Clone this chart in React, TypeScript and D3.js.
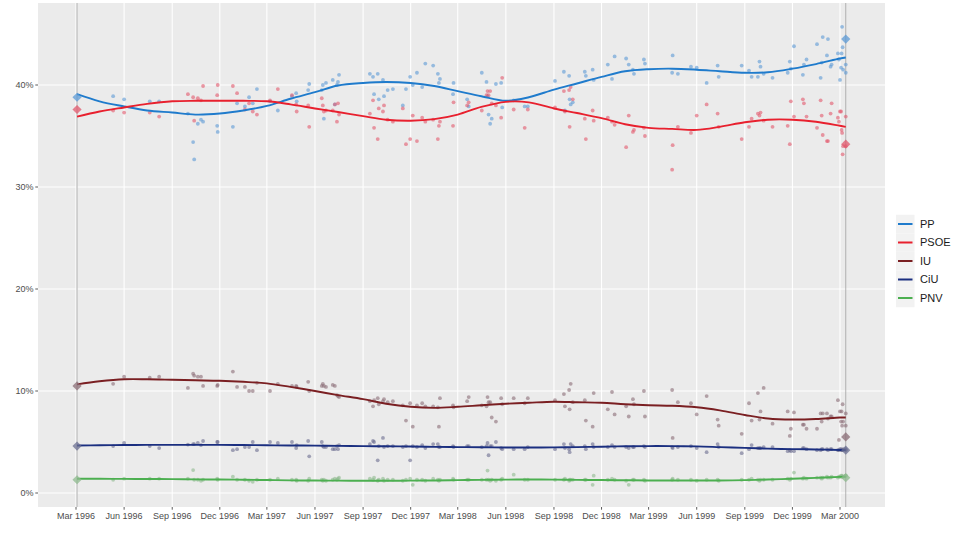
import React from "react";
import * as d3 from "d3";

// ---------- data ----------
const parties = ["PP", "PSOE", "IU", "CiU", "PNV"];
const lineColors = ["#1f7bcc", "#e8202e", "#7a1f22", "#1b2f80", "#4caf50"];
const dotColors = ["#5b9ad6", "#e2586c", "#8a6c76", "#6a6d90", "#8db98d"];

const electionDates = ["1996-03-03", "2000-03-12"];
const electionResults = [
  [38.8, 44.5],
  [37.6, 34.2],
  [10.5, 5.5],
  [4.6, 4.2],
  [1.3, 1.5],
];

const pollDates = [
  "1996-05-11","1996-06-01","1996-07-20","1996-08-07","1996-10-01","1996-10-11","1996-10-13","1996-10-20","1996-10-26","1996-10-30",
  "1996-11-26","1996-11-27","1996-12-26","1997-01-03","1997-01-18","1997-01-26","1997-02-02","1997-02-10","1997-03-07","1997-03-22",
  "1997-04-18","1997-04-26","1997-04-27","1997-05-19","1997-05-21","1997-06-14","1997-06-16","1997-06-18","1997-06-22","1997-07-05",
  "1997-07-09","1997-07-13","1997-07-15","1997-07-17","1997-09-14","1997-09-20","1997-09-22","1997-09-29","1997-10-01","1997-10-09",
  "1997-10-11","1997-10-18","1997-10-28","1997-11-16","1997-11-22","1997-11-30","1997-12-05","1997-12-13","1997-12-23","1997-12-29",
  "1998-01-13","1998-01-22","1998-01-24","1998-01-26","1998-02-20","1998-02-21","1998-03-19","1998-03-22","1998-04-16","1998-04-25",
  "1998-04-27","1998-04-29","1998-05-02","1998-05-05","1998-05-13","1998-05-23","1998-05-25","1998-06-16","1998-07-07","1998-07-13",
  "1998-09-03","1998-09-20","1998-09-22","1998-09-30","1998-10-01","1998-10-03","1998-10-07","1998-10-30","1998-11-01","1998-11-14",
  "1998-11-16","1998-12-13","1998-12-21","1998-12-26","1999-01-17","1999-01-22","1999-01-30","1999-02-01","1999-02-20","1999-02-22",
  "1999-04-15","1999-04-16","1999-04-26","1999-05-21","1999-06-01","1999-06-20","1999-07-11","1999-07-13","1999-08-26","1999-09-09",
  "1999-09-14","1999-09-26","1999-09-29","1999-10-01","1999-10-07","1999-10-24","1999-11-22","1999-11-26","1999-11-28","1999-12-04",
  "1999-12-21","1999-12-23","1999-12-28","2000-01-17","2000-01-24","2000-01-26","2000-01-28","2000-02-05","2000-02-07","2000-02-12",
  "2000-02-14","2000-02-26","2000-02-28","2000-03-01","2000-03-03","2000-03-04","2000-03-05","2000-03-06","2000-03-07","2000-03-12",
  "2000-03-12",
];

const ppPolls = [
  38.9,38.6,38.4,38.4,37.2,34.4,32.7,36.2,36.6,36.4,
  36.0,35.4,35.9,38.2,37.9,38.8,38.2,39.6,38.4,37.5,
  38.9,39.2,38.4,39.5,40.1,39.5,40.0,36.7,40.2,40.5,
  38.1,40.0,40.3,41.0,41.1,40.8,39.1,41.1,38.6,40.5,
  38.9,39.5,39.6,38.0,39.6,40.8,40.0,41.2,39.8,42.1,
  41.9,41.1,40.2,40.6,39.1,40.2,38.6,37.9,41.2,40.3,
  38.9,37.1,36.2,36.7,40.1,40.2,37.8,38.5,37.9,37.9,
  40.4,41.3,37.5,40.9,38.6,38.1,38.3,41.3,40.9,41.5,
  40.5,42.0,40.6,42.8,42.6,42.0,41.5,41.1,42.5,42.1,
  41.2,42.9,41.1,41.8,41.7,40.2,41.9,40.8,41.9,41.4,
  40.8,40.8,42.3,41.8,41.1,40.7,41.2,42.3,41.6,43.8,
  41.0,42.0,42.5,44.0,40.7,42.2,44.7,42.9,44.5,41.8,
  42.0,43.1,42.5,40.5,41.7,43.1,45.7,43.7,41.5,42.0,
  41.2,
];
const psoePolls = [
  37.5,37.3,37.3,36.9,39.1,38.8,36.5,38.7,38.5,39.9,
  39.0,40.0,39.9,39.2,37.6,38.2,37.4,37.1,38.5,39.6,
  39.0,38.1,37.4,38.0,35.9,38.7,38.0,37.4,37.5,37.5,
  38.1,36.4,38.2,37.1,37.2,38.5,35.8,34.7,37.7,37.4,
  38.0,36.6,36.4,37.7,34.2,34.7,37.0,34.5,36.8,36.4,
  36.6,34.7,36.0,36.4,36.0,38.3,38.0,38.3,37.5,39.0,
  39.4,39.0,39.4,38.2,38.0,36.8,40.7,37.6,35.8,37.6,
  37.8,39.4,37.4,39.5,35.9,39.8,38.6,36.7,34.7,37.5,
  36.5,36.8,36.4,36.1,33.9,37.0,35.4,35.6,35.8,35.0,
  31.7,34.1,35.9,35.3,37.0,38.1,37.2,35.9,34.7,35.9,
  36.7,37.2,37.0,37.3,36.5,35.9,36.0,34.2,38.4,36.9,
  38.6,38.2,36.9,35.8,38.5,37.0,35.1,34.5,34.5,37.2,
  38.2,36.8,36.4,37.4,37.4,35.6,35.3,33.2,34.0,36.9,
  34.0,
];
const iuPolls = [
  10.7,11.4,11.3,11.4,10.3,11.7,11.5,11.4,11.4,10.5,
  10.5,10.6,11.9,10.4,10.4,10.0,10.0,10.8,10.0,10.7,
  10.5,10.5,10.4,10.9,10.0,10.5,10.7,10.5,10.4,10.6,
  10.5,9.6,9.5,9.4,9.0,8.5,9.1,9.3,8.7,9.0,
  9.2,8.9,9.0,8.6,7.1,8.8,6.5,8.6,8.8,8.5,
  8.5,8.4,6.5,9.3,8.6,8.4,9.0,9.4,8.6,8.5,
  9.4,8.9,8.9,7.4,7.0,9.3,8.7,9.3,8.8,9.3,
  9.1,9.7,8.5,10.1,8.2,10.7,8.9,9.1,7.1,6.5,
  9.8,8.2,9.9,7.7,8.5,7.5,9.2,8.7,10.0,7.5,
  10.1,5.4,8.9,8.8,7.7,9.5,7.2,6.6,5.8,8.8,
  7.1,9.8,7.2,8.0,10.3,6.8,8.0,5.6,6.3,7.9,
  6.7,6.7,6.3,6.3,7.8,7.0,7.8,7.8,7.3,7.5,
  7.5,9.1,5.2,8.0,7.0,8.0,6.6,8.7,7.0,7.8,
  6.6,
];
const ciuPolls = [
  4.6,4.9,4.6,4.4,4.75,4.8,4.8,4.9,4.7,5.1,
  5.0,5.0,4.2,4.3,4.5,4.5,5.0,4.2,5.0,4.9,
  5.0,4.4,4.7,5.1,3.6,5.0,4.6,4.5,4.5,4.3,
  4.3,4.6,4.3,4.7,4.8,5.1,5.0,3.2,4.6,5.4,
  4.5,4.6,4.6,4.5,4.6,3.2,4.6,4.5,4.7,4.4,
  4.8,4.8,4.5,4.5,4.6,4.5,4.6,4.6,4.5,4.6,
  4.9,3.7,4.6,4.6,5.0,4.4,4.3,4.3,4.3,4.5,
  4.3,4.8,4.4,4.3,4.0,4.8,4.6,4.6,4.3,4.8,
  4.5,4.5,4.7,4.5,4.5,4.4,4.5,4.5,4.6,4.5,
  4.5,4.4,4.5,4.6,4.4,4.0,4.8,4.5,3.9,4.3,
  4.7,4.4,4.4,4.4,4.5,4.5,4.1,4.2,4.1,4.1,
  4.4,4.4,4.3,4.2,4.2,4.3,4.3,4.3,4.2,4.3,
  4.3,4.2,4.2,4.3,4.3,4.2,4.2,4.2,4.3,4.2,
  4.3,
];
const pnvPolls = [
  1.3,1.4,1.4,1.4,1.4,2.25,1.3,1.3,1.2,1.3,
  1.4,1.3,1.6,1.3,1.3,1.2,1.1,1.3,1.3,1.4,
  1.3,1.3,1.2,1.2,1.4,1.3,1.2,1.3,1.2,1.3,
  1.4,1.3,1.4,1.5,1.4,1.3,1.5,1.2,1.3,1.4,
  1.2,1.3,1.3,1.2,1.3,1.4,0.8,1.3,1.3,1.2,
  1.4,1.3,1.2,1.3,1.4,1.3,1.3,1.3,1.3,1.3,
  2.2,1.3,1.2,1.3,1.2,1.3,1.4,1.8,1.3,1.3,
  1.3,1.3,1.4,1.2,1.3,1.3,1.3,1.3,1.3,0.8,
  1.7,1.3,1.4,1.3,1.2,0.8,1.3,1.3,1.3,1.2,
  1.3,1.4,1.3,1.3,1.2,1.3,1.3,1.2,1.3,1.3,
  1.4,1.3,1.2,1.3,1.3,1.3,1.4,1.3,1.4,2.0,
  1.4,1.5,1.4,1.5,1.5,1.4,1.5,1.6,1.5,1.5,
  1.6,1.5,1.6,1.6,1.7,1.6,1.7,1.6,1.6,1.7,
  1.7,
];

const trendDates = [
  "1996-03-03","1996-04-15","1996-06-01","1996-07-15","1996-09-01","1996-10-15","1996-12-01","1997-01-15","1997-03-01","1997-04-15",
  "1997-06-01","1997-07-15","1997-09-01","1997-10-15","1997-12-01","1998-01-15","1998-03-01","1998-04-15","1998-06-01","1998-07-15",
  "1998-09-01","1998-10-15","1998-12-01","1999-01-15","1999-03-01","1999-04-15","1999-06-01","1999-07-15","1999-09-01","1999-10-15",
  "1999-12-01","2000-01-15","2000-03-01","2000-03-12",
];
const ppTrend = [39.1,38.4,37.9,37.5,37.3,37.1,37.2,37.5,37.95,38.65,39.3,39.95,40.2,40.3,40.2,39.9,39.4,38.9,38.45,38.8,39.55,40.15,40.8,41.35,41.55,41.6,41.5,41.35,41.2,41.25,41.6,42.05,42.6,42.7];
const psoeTrend = [36.9,37.4,37.8,38.15,38.4,38.45,38.45,38.45,38.4,38.1,37.7,37.35,36.95,36.6,36.5,36.65,37.1,37.85,38.35,38.3,37.7,37.25,36.75,36.15,35.8,35.7,35.6,35.9,36.35,36.6,36.6,36.4,36.0,35.9];
const iuTrend = [10.65,10.95,11.15,11.15,11.1,11.05,11.0,10.9,10.75,10.4,10.0,9.6,9.2,8.75,8.45,8.35,8.45,8.6,8.75,8.85,8.95,8.9,8.85,8.7,8.6,8.55,8.4,8.1,7.65,7.3,7.2,7.25,7.4,7.4];
const ciuTrend = [4.65,4.68,4.7,4.72,4.72,4.72,4.72,4.7,4.68,4.66,4.64,4.62,4.6,4.58,4.56,4.52,4.5,4.48,4.46,4.46,4.47,4.5,4.54,4.58,4.6,4.6,4.57,4.5,4.42,4.35,4.3,4.27,4.22,4.2];
const pnvTrend = [1.4,1.39,1.38,1.37,1.36,1.34,1.32,1.3,1.27,1.24,1.22,1.21,1.2,1.2,1.21,1.23,1.26,1.29,1.31,1.32,1.31,1.29,1.27,1.25,1.23,1.22,1.22,1.23,1.26,1.32,1.4,1.48,1.58,1.6];

const yTicks = [0, 10, 20, 30, 40];
const tickStart = "1996-03-01";
const tickEnd = "2000-03-01";

const pollSeries = [ppPolls, psoePolls, iuPolls, ciuPolls, pnvPolls];
const trendSeries = [ppTrend, psoeTrend, iuTrend, ciuTrend, pnvTrend];

// ---------- layout ----------
const W = 960, H = 534;
const P = { left: 38, right: 885, top: 3, bottom: 507 };
const FONT = "'Liberation Sans', Arial, sans-serif";

export default function App() {
  const parse = d3.utcParse("%Y-%m-%d");
  const x = d3.scaleUtc().domain([parse(tickStart), parse(tickEnd)]).range([76, 840]);
  const y = d3.scaleLinear().domain([0, 40]).range([493, 85]);
  const xTicks = d3.utcMonth.range(parse(tickStart), d3.utcDay.offset(parse(tickEnd), 1), 3);
  const fmt = d3.utcFormat("%b %Y");
  const pd = pollDates.map(parse);
  const td = trendDates.map(parse);
  const line = d3.line<[Date, number]>().x((d) => x(d[0])).y((d) => y(d[1])).curve(d3.curveCatmullRom.alpha(0.5));
  const diamond = (r: number) => `M0,${-r}L${r},0L0,${r}L${-r},0Z`;

  return (
    <svg width={W} height={H} style={{ position: "absolute", left: 0, top: 0, background: "#fff" }} fontFamily={FONT}>
      <rect x={P.left} y={P.top} width={P.right - P.left} height={P.bottom - P.top} fill="#ebebeb" />
      {yTicks.map((t) => (
        <line key={"gy" + t} x1={P.left} x2={P.right} y1={y(t)} y2={y(t)} stroke="#fff" strokeWidth={1.1} />
      ))}
      {xTicks.map((t, i) => (
        <line key={"gx" + i} x1={x(t)} x2={x(t)} y1={P.top} y2={P.bottom} stroke="#fff" strokeWidth={1.1} />
      ))}
      {electionDates.map((d, i) => (
        <line key={"e" + d} x1={x(parse(d)!)} x2={x(parse(d)!)} y1={P.top} y2={P.bottom} stroke={i === 0 ? "#c4c4c4" : "#a0a0a0"} strokeWidth={i === 0 ? 1.4 : 0.8} />
      ))}
      {/* poll dots */}
      {pollSeries.map((vals, pi) => (
        <g key={"p" + pi} fill={dotColors[pi]} fillOpacity={0.6}>
          {vals.map((v, i) => (
            <circle key={i} cx={x(pd[i]!)} cy={y(v)} r={1.9} />
          ))}
        </g>
      ))}
      {/* trend lines */}
      {trendSeries.map((vals, pi) => (
        <path
          key={"t" + pi}
          d={line(vals.map((v, i) => [td[i]!, v]))!}
          fill="none"
          stroke={lineColors[pi]}
          strokeWidth={1.9}
        />
      ))}
      {/* election results */}
      {electionResults.map((vals, pi) => (
        <g key={"er" + pi} fill={dotColors[pi]} fillOpacity={0.75}>
          {vals.map((v, i) => (
            <path key={i} d={diamond(4.6)} transform={`translate(${x(parse(electionDates[i])!)},${y(v)})`} />
          ))}
        </g>
      ))}
      {/* y axis */}
      {yTicks.map((t) => (
        <g key={"yt" + t}>
          <line x1={P.left - 2.7} x2={P.left} y1={y(t)} y2={y(t)} stroke="#333" strokeWidth={0.8} />
          <text x={P.left - 4.5} y={y(t)} dy="0.35em" textAnchor="end" fontSize={9} fill="#4d4d4d">
            {t + "%"}
          </text>
        </g>
      ))}
      {/* x axis */}
      {xTicks.map((t, i) => (
        <g key={"xt" + i}>
          <line x1={x(t)} x2={x(t)} y1={P.bottom} y2={P.bottom + 2.7} stroke="#333" strokeWidth={0.8} />
          <text x={x(t)} y={P.bottom + 11.5} textAnchor="middle" fontSize={9} fill="#4d4d4d">
            {fmt(t)}
          </text>
        </g>
      ))}
      {/* legend */}
      {parties.map((p, i) => {
        const cy = 224 + i * 18.5;
        return (
          <g key={"lg" + p}>
            <rect x={896} y={cy - 9.25} width={18.5} height={18.5} fill="#f2f2f2" />
            <line x1={898} x2={912.5} y1={cy} y2={cy} stroke={lineColors[i]} strokeWidth={2} />
            <text x={920} y={cy} dy="0.35em" fontSize={11} fill="#1a1a1a">
              {p}
            </text>
          </g>
        );
      })}
    </svg>
  );
}
